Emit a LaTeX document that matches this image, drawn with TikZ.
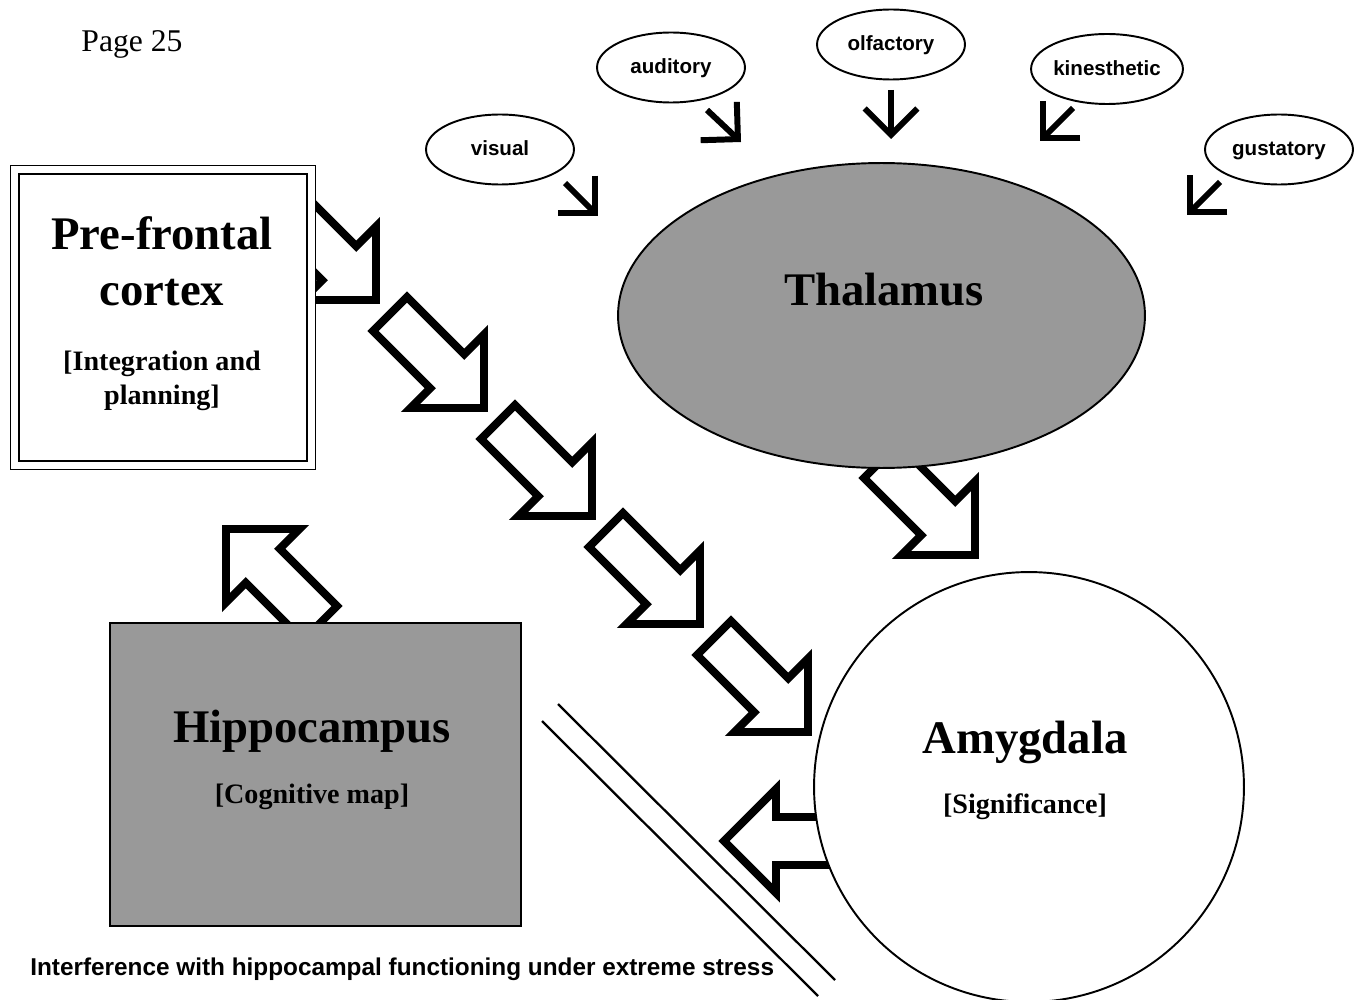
\documentclass[tikz,border=0pt]{standalone}
\usepackage{fontspec}
\setmainfont{Liberation Serif}
\setsansfont{Liberation Sans}
\usetikzlibrary{shapes.geometric,arrows.meta}

\definecolor{regiongray}{RGB}{153,153,153}

\tikzset{
  region/.style={draw, line width=1.1pt, inner sep=0pt},
  sensebox/.style={draw, ellipse, line width=1.1pt, inner sep=0pt, minimum width=2.96cm, minimum height=1.4cm,
    text height=0.73em, text depth=0pt, font=\sffamily\bfseries\fontsize{11.7}{14}\selectfont},
  sense/.style={line width=3.4pt, -{Straight Barb[sharp, length=15pt, width=30pt]}},
  bigarrow/.style={draw, line width=4.5pt, fill=white, line join=miter},
  regiontitle/.style={anchor=base, inner sep=0pt, font=\bfseries\fontsize{26.6}{32}\selectfont},
  regionnote/.style={anchor=base, inner sep=0pt, font=\bfseries\fontsize{16}{20}\selectfont},
}

% hollow block arrow: tip, direction
\newcommand{\bigarrowat}[2]{%
  \draw[bigarrow, shift={(#1)}, rotate=#2]
    (0,0) -- (-52,52) -- (-52,24) -- (-133,24) -- (-133,-24) -- (-52,-24) -- (-52,-52) -- cycle;}

\begin{document}
\begin{tikzpicture}[x=0.02cm, y=-0.02cm]
	\useasboundingbox (0,0) rectangle (1356,1000);

	%block arrows (drawn first, regions cover their tails)
	\bigarrowat{376,300}{-45}
	\bigarrowat{484,408}{-45}
	\bigarrowat{592,516}{-45}
	\bigarrowat{700,624}{-45}
	\bigarrowat{808,732}{-45}
	\bigarrowat{975,555}{-45}
	\bigarrowat{226,529}{135}
	\bigarrowat{724,841}{180}

	%regions
	\node[draw, double, double distance=4.5pt, line width=0.6pt, fill=white, inner sep=0pt,
	      minimum width=5.94cm, minimum height=5.92cm] (pfc) at (163,317.5) {};
	\node[region, ellipse, fill=regiongray, minimum width=10.54cm, minimum height=6.1cm] (thalamus) at (881.5,315.5) {};
	\node[region, rectangle, fill=regiongray, minimum width=8.22cm, minimum height=6.06cm] (hippocampus) at (315.5,774.5) {};
	\node[region, circle, fill=white, minimum size=8.6cm] (amygdala) at (1029,787) {};

	%labels
	\node[regiontitle] (pfc-a) at (162,250) {Pre-frontal};
	\node[regiontitle] (pfc-b) at (162,306) {cortex};
	\node[regionnote]  (pfc-c) at (162,370) {[Integration and};
	\node[regionnote]  (pfc-d) at (162,404) {planning]};
	\node[regiontitle] (thal-a) at (884,306) {Thalamus};
	\node[regiontitle] (hipp-a) at (312,742) {Hippocampus};
	\node[regionnote]  (hipp-b) at (312,803) {[Cognitive map]};
	\node[regiontitle] (amyg-a) at (1025,753) {Amygdala};
	\node[regionnote]  (amyg-b) at (1025,813) {[Significance]};

	%senses
	\node[sensebox] (visual)      at (500,149.5)  {visual};
	\node[sensebox] (auditory)    at (671,67.5)   {auditory};
	\node[sensebox] (olfactory)   at (891,44.5)   {olfactory};
	\node[sensebox] (kinesthetic) at (1107,69)    {kinesthetic};
	\node[sensebox] (gustatory)   at (1279,149.5) {gustatory};

	\coordinate (vis1) at (565,183);  \coordinate (vis2) at (598,216);
	\coordinate (aud1) at (707,110);  \coordinate (aud2) at (741,142);
	\coordinate (olf1) at (891,90);   \coordinate (olf2) at (891,139);
	\coordinate (kin1) at (1073,108); \coordinate (kin2) at (1040,141);
	\coordinate (gus1) at (1220,182); \coordinate (gus2) at (1187,215);
	\draw[sense] (vis1) -- (vis2);
	\draw[sense] (aud1) -- (aud2);
	\draw[sense] (olf1) -- (olf2);
	\draw[sense] (kin1) -- (kin2);
	\draw[sense] (gus1) -- (gus2);

	%stress barrier
	\draw[line width=1.3pt] (558,704) -- (835,980);
	\draw[line width=1.3pt] (542,721) -- (818,996);

	\node[anchor=base west, inner sep=0pt, font=\sffamily\bfseries\fontsize{13.85}{16}\selectfont] (stress) at (30,975)
	      {Interference with hippocampal functioning under extreme stress};
	\node[anchor=base, inner sep=0pt, font=\fontsize{18}{22}\selectfont] (page) at (132,52) {Page 25};
\end{tikzpicture}
\end{document}
